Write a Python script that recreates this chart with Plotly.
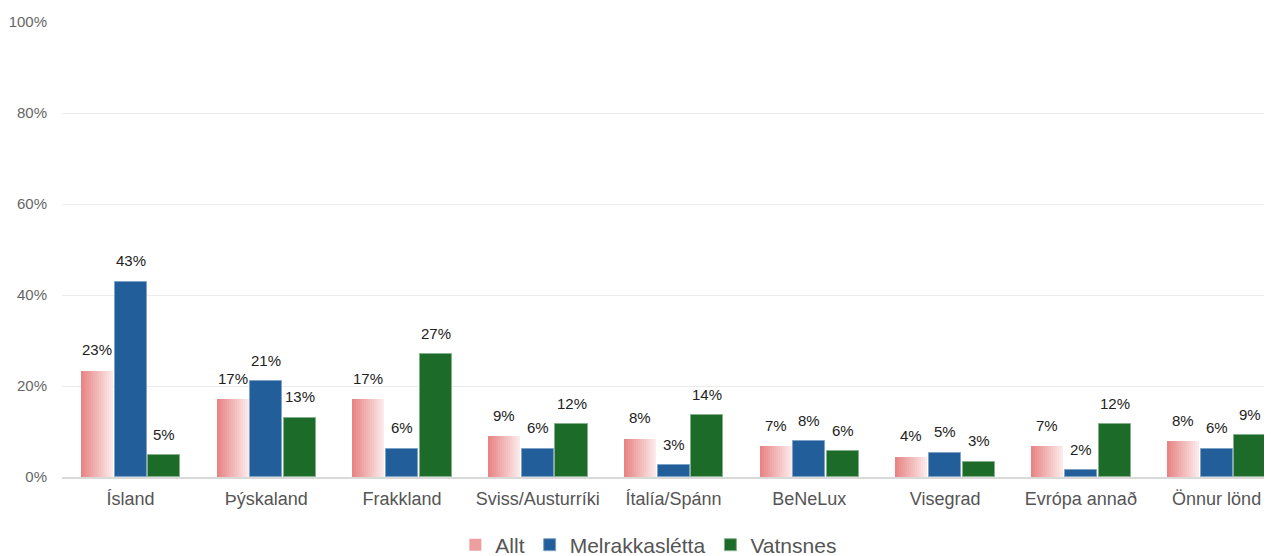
import plotly.graph_objects as go

categories = ["Ísland", "Þýskaland", "Frakkland", "Sviss/Austurríki", "Ítalía/Spánn",
              "BeNeLux", "Visegrad", "Evrópa annað", "Önnur lönd"]
allt = [23.3, 17.1, 17.1, 9.0, 8.4, 6.8, 4.4, 6.8, 7.9]
melrakkasletta = [42.9, 21.1, 6.2, 6.2, 2.6, 7.9, 5.3, 1.5, 6.2]
vatnsnes = [4.8, 13.0, 27.0, 11.6, 13.6, 5.7, 3.3, 11.6, 9.2]
labels_allt = ["23%", "17%", "17%", "9%", "8%", "7%", "4%", "7%", "8%"]
labels_melr = ["43%", "21%", "6%", "6%", "3%", "8%", "5%", "2%", "6%"]
labels_vatn = ["5%", "13%", "27%", "12%", "14%", "6%", "3%", "12%", "9%"]
y_ticks = [0, 20, 40, 60, 80, 100]
y_tick_text = ["0%", "20%", "40%", "60%", "80%", "100%"]

FONT = "Liberation Sans, Arial, sans-serif"
BW = 0.236
offsets = [-0.366, -0.118, 0.130]

fig = go.Figure()

# gradient for "Allt": overlapping slices from saturated pink to near white
N = 16
c0 = (232, 132, 132)
c1 = (252, 234, 234)
sw = BW / N
for k in range(N):
    t = k / (N - 1)
    col = "rgb(%d,%d,%d)" % tuple(round(c0[j] + (c1[j] - c0[j]) * t) for j in range(3))
    w = sw * 2.5 if k < N - 1 else sw
    w = min(w, BW - k * sw)
    fig.add_trace(go.Bar(
        x=categories, y=allt, width=w, offset=offsets[0] + k * sw,
        marker=dict(color=col, line=dict(width=0)),
        name="Allt", showlegend=(k == 4), legendgroup="allt",
        hoverinfo="skip" if k != 4 else None,
    ))

fig.add_trace(go.Bar(x=categories, y=melrakkasletta, width=BW, offset=offsets[1],
                     marker=dict(color="#225e99", line=dict(width=1, color="#7fa3c6")),
                     name="Melrakkaslétta"))
fig.add_trace(go.Bar(x=categories, y=vatnsnes, width=BW, offset=offsets[2],
                     marker=dict(color="#1c6b28", line=dict(width=1, color="#86b08c")),
                     name="Vatnsnes"))

for series, labels, off in [(allt, labels_allt, offsets[0]),
                            (melrakkasletta, labels_melr, offsets[1]),
                            (vatnsnes, labels_vatn, offsets[2])]:
    for i, (v, lab) in enumerate(zip(series, labels)):
        fig.add_annotation(x=i + off + BW / 2, y=v, text=lab, showarrow=False,
                           yanchor="middle", yshift=21,
                           font=dict(family=FONT, size=15, color="#222"))

fig.update_layout(
    width=1264, height=548,
    barmode="overlay",
    plot_bgcolor="white", paper_bgcolor="white",
    margin=dict(l=54, r=0, t=14, b=79),
    font=dict(family=FONT, color="#555"),
    xaxis=dict(type="category", showgrid=False, showline=True, linecolor="#d9d9d9",
               linewidth=2, tickfont=dict(size=18, color="#555"), ticks="",
               range=[-0.505, 8.408], automargin=False, ticklabelstandoff=4),
    yaxis=dict(range=[0, 100], tickvals=y_ticks, ticktext=y_tick_text,
               showgrid=True, gridcolor="#ececec", gridwidth=1, zeroline=False,
               tickfont=dict(size=15, color="#666"), ticklabelstandoff=14,
               automargin=False),
    legend=dict(orientation="h", x=0.507, xanchor="center", xref="container",
                y=0.020, yanchor="middle", yref="container",
                font=dict(size=21, color="#555"), itemwidth=30,
                traceorder="normal"),
    bargap=0,
)

fig.write_html("out.html")
